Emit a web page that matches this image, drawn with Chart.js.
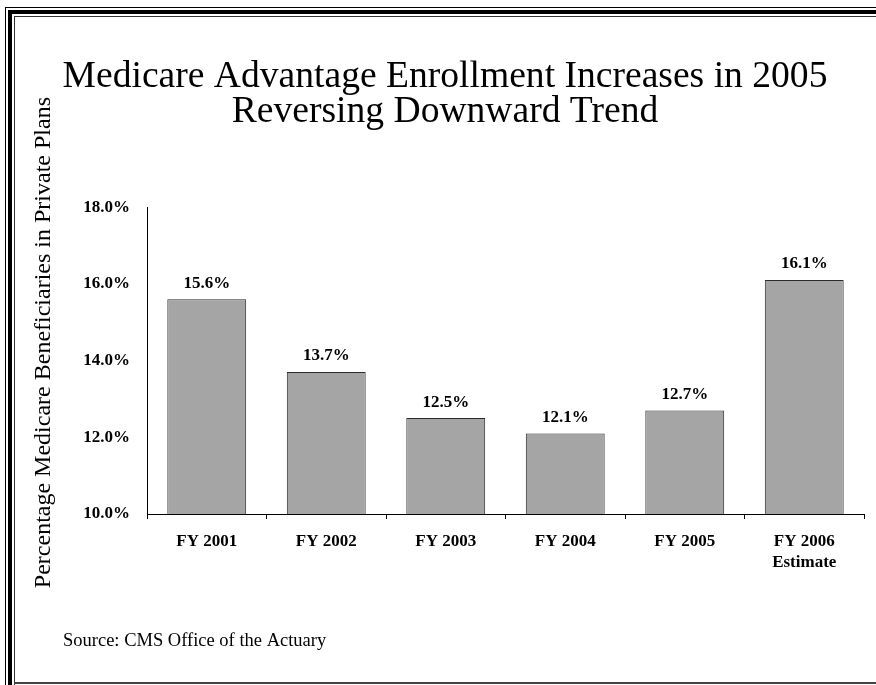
<!DOCTYPE html>
<html>
<head>
<meta charset="utf-8">
<script src="https://cdn.jsdelivr.net/npm/chart.js@4.4.1/dist/chart.umd.min.js"></script>
<style>
  html, body { margin: 0; padding: 0; background: #fff; }
  canvas { display: block; }
</style>
</head>
<body>
<canvas id="myChart" width="876" height="685"></canvas>
<script>
// data
var years = ["FY 2001", "FY 2002", "FY 2003", "FY 2004", "FY 2005", ["FY 2006", "Estimate"]];
var shares = [15.6, 13.7, 12.5, 12.1, 12.7, 16.1];
var titleLines = ["Medicare Advantage Enrollment Increases in 2005", "Reversing Downward Trend"];
var yTitle = "Percentage Medicare Beneficiaries in Private Plans";
var sourceNote = "Source: CMS Office of the Actuary";
var yMin = 10, yMax = 18, yStep = 2;

var serif = "'Liberation Serif', 'Times New Roman', serif";
Chart.defaults.font.family = serif;
Chart.defaults.color = "#000";

// slide frame: thin / thick / thin lines on top and left, plain line at bottom
var framePlugin = {
  id: "frame",
  beforeDraw: function(chart) {
    var ctx = chart.ctx;
    ctx.save();
    ctx.fillStyle = "#fff";
    ctx.fillRect(0, 0, chart.width, chart.height);
    ctx.fillStyle = "#000";
    ctx.fillRect(5, 7, 1, chart.height - 7);
    ctx.fillRect(5, 7, chart.width - 5, 1);
    ctx.fillRect(8, 10, 4, chart.height - 10);
    ctx.fillRect(8, 10, chart.width - 8, 4);
    ctx.fillStyle = "#333";
    ctx.fillRect(14, 16, 1, chart.height - 16);
    ctx.fillRect(14, 16, chart.width - 14, 1);
    ctx.fillStyle = "#444";
    ctx.fillRect(14, 682, chart.width - 14, 2);
    ctx.restore();
  },
  afterDraw: function(chart) {
    var ctx = chart.ctx;
    ctx.save();
    ctx.font = "18.5px " + serif;
    ctx.fillStyle = "#000";
    ctx.textAlign = "left";
    ctx.textBaseline = "middle";
    ctx.fillText(sourceNote, 63, 641);
    ctx.restore();
  }
};

// percentage above each bar
var valuePlugin = {
  id: "barValues",
  afterDatasetsDraw: function(chart) {
    var ctx = chart.ctx;
    var meta = chart.getDatasetMeta(0);
    ctx.save();
    ctx.font = "bold 17px " + serif;
    ctx.fillStyle = "#000";
    ctx.textAlign = "center";
    ctx.textBaseline = "middle";
    meta.data.forEach(function(bar, i) {
      ctx.fillText(shares[i].toFixed(1) + "%", bar.x, bar.y - 16);
    });
    ctx.restore();
  }
};

new Chart("myChart", {
  type: "bar",
  data: {
    labels: years,
    datasets: [{
      data: shares,
      backgroundColor: "#a5a5a5",
      borderColor: "#2b2b2b",
      borderWidth: 1,
      categoryPercentage: 1,
      barPercentage: 0.66
    }]
  },
  options: {
    responsive: false,
    animation: false,
    layout: { padding: { left: 26, right: 12, top: 10, bottom: 0 } },
    plugins: {
      legend: { display: false },
      tooltip: { enabled: false },
      title: {
        display: true,
        text: titleLines,
        color: "#000",
        font: { size: 37.6, weight: "normal", lineHeight: 0.92 },
        padding: { top: 50, bottom: 78 }
      }
    },
    scales: {
      x: {
        grid: { display: true, drawOnChartArea: false, drawTicks: true, tickLength: 5, color: "#000" },
        border: { display: true, color: "#000", width: 1 },
        ticks: {
          color: "#000",
          padding: 12,
          maxRotation: 0,
          autoSkip: false,
          font: { size: 17, weight: "bold", lineHeight: "21px" }
        },
        afterFit: function(scale) { scale.height = 171; }
      },
      y: {
        min: yMin,
        max: yMax,
        grid: { display: false, drawTicks: false },
        border: { display: true, color: "#000", width: 1 },
        ticks: {
          stepSize: yStep,
          padding: 17,
          color: "#000",
          font: { size: 17, weight: "bold" },
          callback: function(v) { return v.toFixed(1) + "%"; }
        },
        title: {
          display: true,
          text: "      " + yTitle,
          color: "#000",
          font: { size: 24, weight: "normal", lineHeight: 1.2 },
          padding: { top: 3, bottom: 0 }
        },
        afterFit: function(scale) { scale.width = 121; }
      }
    }
  },
  plugins: [framePlugin, valuePlugin]
});
</script>
</body>
</html>
